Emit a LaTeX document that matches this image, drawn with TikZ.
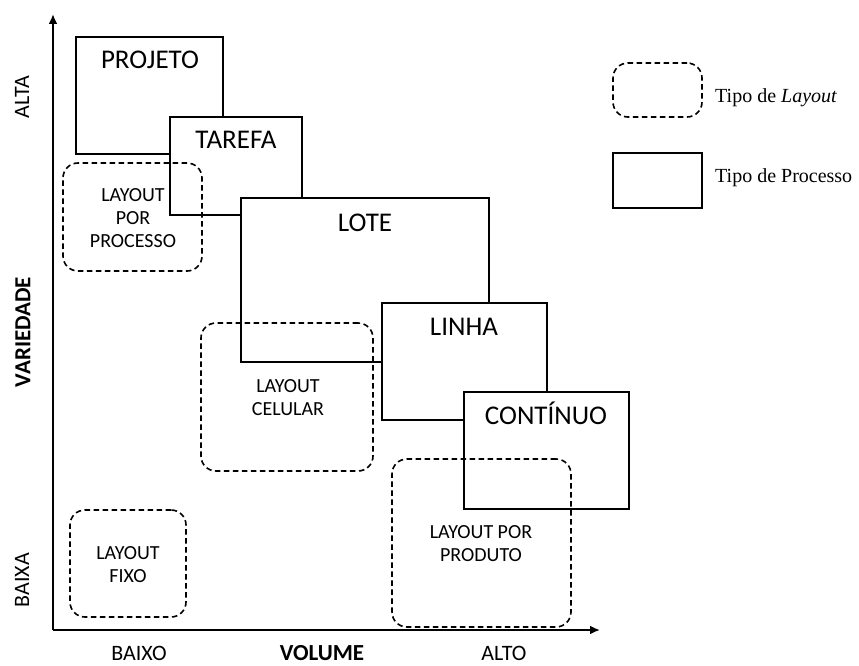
\documentclass[tikz,border=0pt]{standalone}
\usepackage{fontspec}
\setmainfont{Carlito}
\newfontfamily\legfont{Liberation Serif}
\usetikzlibrary{arrows.meta}
\begin{document}
\begin{tikzpicture}[x=1pt,y=-1pt,
 proc/.style={draw=black, line width=1.7pt, fill=white, rectangle, inner sep=0pt, outer sep=0pt, anchor=north west},
 lay/.style={draw=black, line width=1.6pt, dash pattern=on 5.5pt off 3.5pt, rounded corners=15pt, rectangle, inner sep=0pt, outer sep=0pt, anchor=north west},
 big/.style={font=\fontsize{27}{32}\selectfont, inner sep=0pt, anchor=base},
 small/.style={font=\fontsize{20}{23}\selectfont, align=center, inner sep=0pt},
 axl/.style={font=\fontsize{22}{26}\selectfont, inner sep=0pt},
 axb/.style={font=\fontsize{23}{26}\selectfont\bfseries, inner sep=0pt},
 leg/.style={font=\legfont\fontsize{20}{24}\selectfont, inner sep=0pt, anchor=base west},
 axis/.style={line width=2.6pt, -{Latex[length=10pt,width=9pt]}}]
\useasboundingbox (0,0) rectangle (859,666);
% axes
\coordinate (o) at (53,630);
\coordinate (ytip) at (53,14);
\coordinate (xtip) at (600,630);
\draw[axis] (o) -- (ytip);
\draw[axis] (o) -- (xtip);
% process boxes
\node[proc, minimum width=147pt, minimum height=117pt] (projeto) at (76,37) {};
\node[proc, minimum width=132pt, minimum height=98pt] (tarefa) at (170,117) {};
\node[proc, minimum width=248pt, minimum height=164pt] (lote) at (241,198) {};
\node[proc, minimum width=165pt, minimum height=117pt] (linha) at (382,303) {};
\node[proc, minimum width=165pt, minimum height=117pt] (continuo) at (464,392) {};
\node[big] (tprojeto) at (150,69) {PROJETO};
\node[big] (ttarefa) at (236,148) {TAREFA};
\node[big] (tlote) at (365,231) {LOTE};
\node[big] (tlinha) at (464,335) {LINHA};
\node[big] (tcontinuo) at (546,424) {CONTÍNUO};
% layout boxes
\node[lay, minimum width=139pt, minimum height=108pt] (processo) at (63,163) {};
\node[lay, minimum width=172pt, minimum height=148pt] (celular) at (201,323) {};
\node[lay, minimum width=179pt, minimum height=168pt] (produto) at (392,459) {};
\node[lay, minimum width=116pt, minimum height=107pt] (fixo) at (70,510) {};
\node[small] (tprocesso) at (133,218) {LAYOUT\\POR\\PROCESSO};
\node[small] (tcelular) at (288,398) {LAYOUT\\CELULAR};
\node[small] (tproduto) at (481,544) {LAYOUT POR\\PRODUTO};
\node[small] (tfixo) at (128,565) {LAYOUT\\FIXO};
% axis labels
\node[axl, rotate=90] (alta) at (22,97) {ALTA};
\node[axl, rotate=90] (baixa) at (22,580) {BAIXA};
\node[axb, rotate=90] (variedade) at (23,332) {VARIEDADE};
\node[axl] (baixo) at (139,653) {BAIXO};
\node[axb] (volume) at (322,653) {VOLUME};
\node[axl] (alto) at (504,653) {ALTO};
% legend
\node[lay, minimum width=89pt, minimum height=54pt] (leglay) at (613,63) {};
\node[proc, minimum width=89pt, minimum height=55pt] (legproc) at (613,153) {};
\node[leg] (tleglay) at (715,103) {Tipo de \textit{Layout}};
\node[leg] (tlegproc) at (715,182) {Tipo de Processo};
\end{tikzpicture}
\end{document}
